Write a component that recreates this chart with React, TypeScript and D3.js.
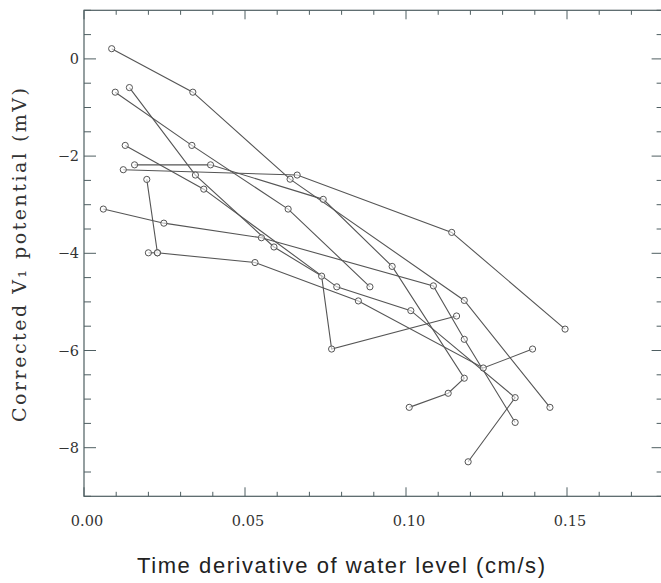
import React from "react";
import * as d3 from "d3";

// ---- data ----
const xTickValues = [0, 0.05, 0.1, 0.15];
const xTickLabels = ["0.00", "0.05", "0.10", "0.15"];
const yTickValues = [0, -2, -4, -6, -8];
const yTickLabels = ["0", "\u22122", "\u22124", "\u22126", "\u22128"];

const run1: [number, number][] = [[0.0086, 0.21], [0.0338, -0.685], [0.064, -2.475], [0.1181, -4.97], [0.1447, -7.17]];
const run2: [number, number][] = [[0.0097, -0.685], [0.0335, -1.78], [0.0634, -3.09], [0.0888, -4.69]];
const run3: [number, number][] = [[0.0141, -0.59], [0.0346, -2.39], [0.059, -3.87], [0.0738, -4.47], [0.0769, -5.97], [0.1157, -5.29]];
const run4: [number, number][] = [[0.0128, -1.78], [0.0372, -2.68], [0.0785, -4.69], [0.1015, -5.18], [0.1339, -6.97], [0.1193, -8.29]];
const run5: [number, number][] = [[0.006, -3.09], [0.0248, -3.38], [0.0551, -3.68], [0.1085, -4.67], [0.1181, -5.77], [0.1339, -7.48]];
const run6: [number, number][] = [[0.0122, -2.28], [0.0662, -2.39], [0.1142, -3.57], [0.1494, -5.56]];
const run7: [number, number][] = [[0.0157, -2.18], [0.0393, -2.18], [0.0743, -2.89], [0.0957, -4.27], [0.1181, -6.57], [0.1131, -6.88], [0.101, -7.17]];
const run8: [number, number][] = [[0.0195, -2.48], [0.0228, -3.99], [0.0531, -4.19], [0.0852, -4.98], [0.124, -6.36], [0.1393, -5.97]];
const run9: [number, number][] = [[0.02, -3.99], [0.0228, -3.99]];

const allRuns = [run1, run2, run3, run4, run5, run6, run7, run8, run9];

const W = 661;
const H = 583;
const left = 84;
const right = 663.6;
const top = 10.3;
const bottom = 496.3;

export default function App() {
  const x = d3.scaleLinear().domain([0, 0.18]).range([left, right]);
  const y = d3.scaleLinear().domain([1, -9]).range([top, bottom]);
  const line = d3
    .line<[number, number]>()
    .x((d) => x(d[0]))
    .y((d) => y(d[1]));

  const xMinor = d3.range(0, 0.1801, 0.01);
  const yMinor = d3.range(-9, 1.001, 0.5);
  const axisColor = "#4f5f62";
  const markColor = "#555";

  return (
    <svg
      width={W}
      height={H}
      style={{ position: "absolute", left: 0, top: 0, background: "#fff" }}
    >
      <rect x={0} y={0} width={W} height={H} fill="#fff" />
      {/* frame */}
      <rect
        x={left}
        y={top}
        width={right - left}
        height={bottom - top}
        fill="none"
        stroke={axisColor}
        strokeWidth={1.2}
      />
      {/* x ticks bottom & top */}
      {xMinor.map((v, i) => {
        const major = Math.abs(Math.round(v * 100) % 5) === 0;
        const len = major ? 9 : 4.5;
        return (
          <g key={"xt" + i}>
            <line x1={x(v)} x2={x(v)} y1={bottom} y2={bottom - len} stroke={axisColor} strokeWidth={1} />
            <line x1={x(v)} x2={x(v)} y1={top} y2={top + len} stroke={axisColor} strokeWidth={1} />
          </g>
        );
      })}
      {/* y ticks left & right */}
      {yMinor.map((v, i) => {
        const major = Math.abs(v % 2) < 1e-9;
        const len = major ? 12 : 7;
        return (
          <g key={"yt" + i}>
            <line x1={left} x2={left + len} y1={y(v)} y2={y(v)} stroke={axisColor} strokeWidth={1} />
            <line x1={right} x2={right - len} y1={y(v)} y2={y(v)} stroke={axisColor} strokeWidth={1} />
          </g>
        );
      })}
      {/* tick labels */}
      {xTickValues.map((v, i) => (
        <text
          key={"xl" + i}
          x={x(v) + 3}
          y={526}
          textAnchor="middle"
          fontFamily="DejaVu Serif"
          fontSize={14.5}
          fill="#333"
        >
          {xTickLabels[i]}
        </text>
      ))}
      {yTickValues.map((v, i) => (
        <text
          key={"yl" + i}
          x={79}
          y={y(v) + 5}
          textAnchor="end"
          fontFamily="DejaVu Serif"
          fontSize={14.5}
          fill="#333"
        >
          {yTickLabels[i]}
        </text>
      ))}
      {/* data */}
      {allRuns.map((r, i) => (
        <path key={"l" + i} d={line(r) || ""} fill="none" stroke={markColor} strokeWidth={1.1} />
      ))}
      {allRuns.map((r, i) =>
        r.map((d, j) => (
          <circle
            key={"c" + i + "-" + j}
            cx={x(d[0])}
            cy={y(d[1])}
            r={3.1}
            fill="#fff"
            fillOpacity={0.6}
            stroke={markColor}
            strokeWidth={1}
          />
        ))
      )}
      {/* axis titles */}
      <text
        x={341}
        y={573}
        textAnchor="middle"
        fontFamily="Liberation Sans, Arial, sans-serif"
        fontSize={22}
        textLength={408}
        lengthAdjust="spacing"
        fill="#222"
      >
        Time derivative of water level (cm/s)
      </text>
      <text
        transform="translate(26,255) rotate(-90)"
        textAnchor="middle"
        fontFamily="DejaVu Serif"
        fontSize={19}
        textLength={334}
        lengthAdjust="spacing"
        fill="#333"
      >
        Corrected V₁ potential (mV)
      </text>
    </svg>
  );
}
